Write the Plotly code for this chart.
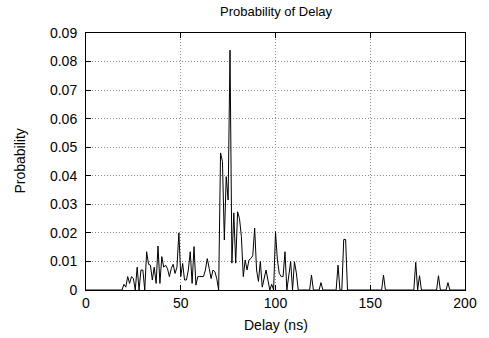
import plotly.graph_objects as go

# Delay (ns) and probability values
delay = [0, 19, 20, 21, 22, 23, 24, 25, 26, 27, 28, 29, 30, 31, 32, 33, 34, 35, 36, 37,
         38, 39, 40, 41, 42, 43, 44, 45, 46, 47, 48, 49, 50, 51, 52, 53, 54, 55, 56, 57,
         58, 59, 60, 61, 62, 63, 64, 65, 66, 67, 68, 69, 70, 71, 72, 73, 74, 75, 76, 77,
         78, 79, 80, 81, 82, 83, 84, 85, 86, 87, 88, 89, 90, 91, 92, 93, 94, 95, 96, 97,
         98, 99, 100, 101, 102, 103, 104, 105, 106, 107, 108, 109, 110, 111, 112,
         118, 119, 120, 123, 124, 125, 132, 133, 134, 135, 136, 137, 138,
         156, 157, 158, 173, 174, 175, 176, 177, 185, 186, 187, 190, 191, 192, 200]
probability = [0, 0, 0.002, 0.001, 0.0047, 0.0023, 0.0047, 0.004, 0.0, 0.008, 0.0, 0.007, 0.007, 0.0, 0.0134, 0.009, 0.0087, 0.0035, 0.008, 0.0023,
               0.0154, 0.0023, 0.0117, 0.008, 0.0087, 0.0075, 0.0047, 0.0075, 0.009, 0.0058, 0.008, 0.020, 0.0047, 0.0093, 0.0035, 0.0035, 0.007, 0.0134, 0.0023, 0.0152,
               0.0017, 0.0047, 0.0047, 0.0047, 0.0047, 0.007, 0.011, 0.0076, 0.004, 0.007, 0.0064, 0.004, 0.0, 0.048, 0.045, 0.0175, 0.0397, 0.0315, 0.084, 0.0094,
               0.027, 0.0094, 0.0274, 0.025, 0.0187, 0.0047, 0.0105, 0.007, 0.0105, 0.011, 0.012, 0.0217, 0.007, 0.003, 0.010, 0.001, 0.004, 0.007, 0.0035, 0.0,
               0.002, 0.0, 0.0204, 0.0105, 0.0058, 0.0047, 0.0047, 0.0134, 0.0, 0.006, 0.0099, 0.0, 0.0099, 0.006, 0.0,
               0, 0.0052, 0, 0, 0.0026, 0, 0, 0.0087, 0, 0, 0.0177, 0.0177, 0,
               0, 0.0052, 0, 0, 0.0097, 0, 0.005, 0, 0, 0.005, 0, 0, 0.0026, 0, 0]

x_ticks = [0, 50, 100, 150, 200]
y_ticks = [0, 0.01, 0.02, 0.03, 0.04, 0.05, 0.06, 0.07, 0.08, 0.09]
y_tick_labels = ["0", "0.01", "0.02", "0.03", "0.04", "0.05", "0.06", "0.07", "0.08", "0.09"]

FONT = "Liberation Sans, Arial, sans-serif"

fig = go.Figure()
fig.add_trace(go.Scatter(x=delay, y=probability, mode="lines",
                         line=dict(color="black", width=1), showlegend=False,
                         hoverinfo="skip"))

axis_common = dict(showline=True, linecolor="black", linewidth=1, mirror="ticks",
                   ticks="inside", ticklen=5, tickcolor="black", tickwidth=1,
                   showgrid=True, gridcolor="#8c8c8c", griddash="1px,2px", gridwidth=1,
                   zeroline=False, tickfont=dict(family=FONT, size=14, color="black"))

fig.update_xaxes(range=[0, 200], tickvals=x_ticks, ticklabelstandoff=0, **axis_common)
fig.update_yaxes(range=[0, 0.09], tickvals=y_ticks, ticktext=y_tick_labels,
                 ticklabelstandoff=5, **axis_common)

fig.update_layout(
    width=489, height=338,
    margin=dict(l=86, r=18, t=33, b=48),
    paper_bgcolor="white", plot_bgcolor="white",
    font=dict(family=FONT, size=14, color="black"),
    annotations=[
        dict(text="Probability of Delay", xref="paper", yref="paper",
             x=0.5, y=(290 - 11) / 257, xanchor="center", yanchor="middle",
             showarrow=False, font=dict(family=FONT, size=13)),
        dict(text="Delay (ns)", xref="paper", yref="paper",
             x=0.5, y=(290 - 325) / 257, xanchor="center", yanchor="middle",
             showarrow=False, font=dict(family=FONT, size=14)),
        dict(text="Probability", xref="paper", yref="paper",
             x=(18 - 86) / 385, y=0.5, xanchor="center", yanchor="middle",
             textangle=-90, showarrow=False, font=dict(family=FONT, size=14)),
    ],
)

fig.write_html("out.html")
